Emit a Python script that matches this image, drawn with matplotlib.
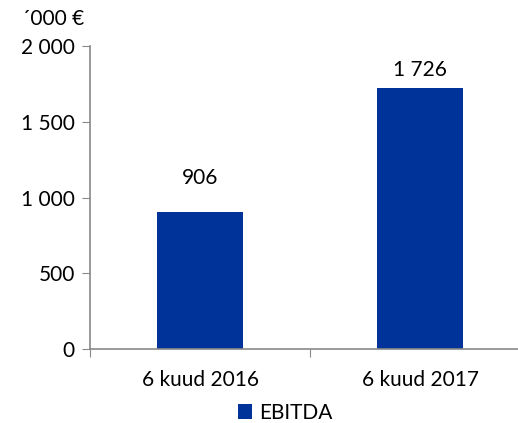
import matplotlib
matplotlib.use("Agg")
import matplotlib.pyplot as plt
from matplotlib.ticker import FuncFormatter

plt.rcParams['font.family'] = ['Lato', 'DejaVu Sans']

categories = ['6 kuud 2016', '6 kuud 2017']
ebitda = [906, 1726]
yticks = [0, 500, 1000, 1500, 2000]
label_offsets = [34, 18]   # pixels above bar top, as in the original

blue = '#003399'
grey = '#898989'
fs = 15

fig = plt.figure(figsize=(5.18, 4.23), dpi=100)
# axes span x 90..530 px, y 46..349 px (right edge runs off the picture)
ax = fig.add_axes([90 / 518, 1 - 349 / 423, 440 / 518, 303 / 423])

x = range(len(categories))
bars = ax.bar(x, ebitda, width=0.395, color=blue, label='EBITDA')

for b, v, off in zip(bars, ebitda, label_offsets):
    ax.annotate(f'{v:,}'.replace(',', ' '),
                (b.get_x() + b.get_width() / 2, v),
                xytext=(0, off), textcoords='offset pixels',
                ha='center', va='center', fontsize=fs)

ax.set_xlim(-0.5, 1.5)
ax.set_ylim(0, 2000)
ax.set_yticks(yticks)
ax.yaxis.set_major_formatter(FuncFormatter(lambda v, p: f'{int(v):,}'.replace(',', ' ')))
ax.set_xticks([-0.5, 0.5, 1.5], minor=False)
ax.set_xticklabels([])
ax.set_xticks(list(x), minor=True)
ax.set_xticklabels(categories, minor=True)
ax.tick_params(axis='x', which='minor', length=0, pad=15, labelsize=fs)
ax.tick_params(axis='x', which='major', length=6, color=grey, direction='out')
ax.tick_params(axis='y', length=6, color=grey, labelsize=fs, pad=5)

for s in ['top', 'right']:
    ax.spines[s].set_visible(False)
for s in ['left', 'bottom']:
    ax.spines[s].set_color(grey)
    ax.spines[s].set_linewidth(1.2)

fig.text(53 / 518, 1 - 19 / 423, '´000 €', ha='center', va='center', fontsize=fs)

fig.legend(handles=[bars], labels=['EBITDA'], loc='center',
           bbox_to_anchor=(285 / 518, 1 - 413 / 423), frameon=False,
           fontsize=fs, handlelength=0.7, handleheight=0.7, handletextpad=0.3)

fig.savefig('out.png', dpi=100)
